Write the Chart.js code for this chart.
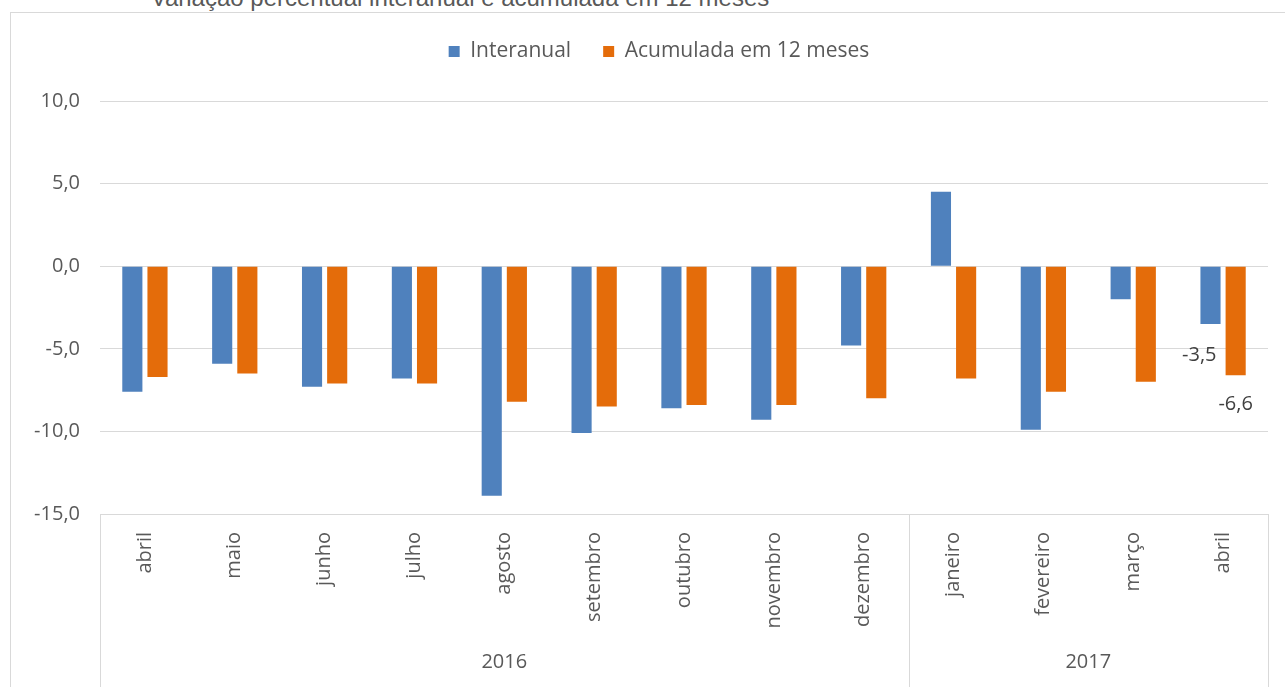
<!DOCTYPE html>
<html>
<head>
<meta charset="utf-8">
<script src="https://cdn.jsdelivr.net/npm/chart.js@4"></script>
<style>
  body { margin: 0; background: #fff; overflow: hidden; }
  .wrap { position: relative; width: 1285px; height: 687px; }
  .frame { position: absolute; left: 10px; top: 12px; width: 1400px; height: 800px; border: 1px solid #d9d9d9; }
  .title { position: absolute; left: 0; width: 920px; top: -16px; text-align: center; font: 24px "Liberation Sans", Arial, sans-serif; color: #595959; white-space: nowrap; }
  canvas { position: absolute; left: 0; top: 0; }
</style>
</head>
<body>
<div class="wrap">
  <div class="frame"></div>
  <div class="title">Variação percentual interanual e acumulada em 12 meses</div>
  <canvas id="myChart" width="1285" height="687"></canvas>
</div>
<script>
const months = ["abril", "maio", "junho", "julho", "agosto", "setembro", "outubro", "novembro", "dezembro", "janeiro", "fevereiro", "março", "abril"];
const years = ["2016", "2017"];
const yearCounts = [9, 4];
const interanual = [-7.6, -5.9, -7.3, -6.8, -13.9, -10.1, -8.6, -9.3, -4.8, 4.5, -9.9, -2.0, -3.5];
const acumulada = [-6.7, -6.5, -7.1, -7.1, -8.2, -8.5, -8.4, -8.4, -8.0, -6.8, -7.6, -7.0, -6.6];
const yTicks = [-15, -10, -5, 0, 5, 10];

const fontFamily = '"Open Sans", sans-serif';
const textColor = "#595959";

// value labels only on the last month, like the original
const lastLabels = {
  id: "lastLabels",
  afterDatasetsDraw(chart) {
    const c = chart.ctx;
    const i = months.length - 1;
    const blue = chart.getDatasetMeta(0).data[i];
    const orange = chart.getDatasetMeta(1).data[i];
    c.save();
    c.font = "20px " + fontFamily;
    c.fillStyle = "#404040";
    c.textBaseline = "middle";
    c.textAlign = "right";
    c.fillText(interanual[i].toFixed(1).replace(".", ","), blue.x + 6, blue.y + 31);
    c.textAlign = "center";
    c.fillText(acumulada[i].toFixed(1).replace(".", ","), orange.x, orange.y + 29);
    c.restore();
  },
};

// year groups under the month labels
const yearGroups = {
  id: "yearGroups",
  afterDraw(chart) {
    const c = chart.ctx;
    const x = chart.scales.x;
    const step = (x.right - x.left) / months.length;
    const top = chart.chartArea.bottom;
    const bottom = chart.height;
    c.save();
    c.strokeStyle = "#d9d9d9";
    c.lineWidth = 1;
    c.font = "20px " + fontFamily;
    c.fillStyle = textColor;
    c.textAlign = "center";
    c.textBaseline = "middle";
    let start = 0;
    const edges = [x.left];
    years.forEach((y, k) => {
      const x0 = x.left + start * step;
      const x1 = x0 + yearCounts[k] * step;
      edges.push(x1);
      c.fillText(y, (x0 + x1) / 2, 662);
      start += yearCounts[k];
    });
    edges.forEach((e) => {
      c.beginPath();
      c.moveTo(Math.round(e) + 0.5, top);
      c.lineTo(Math.round(e) + 0.5, bottom);
      c.stroke();
    });
    c.restore();
  },
};

// taller legend box, and nudged right like the original
const legendBox = {
  id: "legendBox",
  beforeInit(chart) {
    const fit = chart.legend.fit;
    chart.legend.fit = function () {
      fit.bind(chart.legend)();
      this.height = 92;
    };
  },
  afterLayout(chart) {
    chart.legend.left += 25;
    chart.legend.right += 25;
  },
};

const ctx = document.getElementById("myChart").getContext("2d");

new Chart(ctx, {
  type: "bar",
  data: {
    labels: months,
    datasets: [
      {
        label: "Interanual",
        data: interanual,
        backgroundColor: "#4f81bd",
        barPercentage: 0.8,
        categoryPercentage: 0.56,
      },
      {
        label: "Acumulada em 12 meses",
        data: acumulada,
        backgroundColor: "#e46c0a",
        barPercentage: 0.8,
        categoryPercentage: 0.56,
      },
    ],
  },
  options: {
    responsive: false,
    animation: false,
    layout: { padding: { top: 9, left: 0, right: 17, bottom: 0 } },
    plugins: {
      legend: {
        position: "top",
        labels: {
          boxWidth: 11,
          boxHeight: 11,
          padding: 32,
          color: textColor,
          font: { family: fontFamily, size: 21 },
        },
      },
      tooltip: { enabled: false },
    },
    scales: {
      x: {
        grid: { display: false },
        border: { display: false },
        ticks: {
          autoSkip: false,
          minRotation: 90,
          maxRotation: 90,
          padding: 10,
          color: textColor,
          font: { family: fontFamily, size: 20 },
        },
        afterFit(scale) {
          scale.height = 173;
        },
      },
      y: {
        min: -15,
        max: 10,
        grid: { color: "#d9d9d9", drawTicks: false },
        border: { display: false },
        afterBuildTicks(scale) {
          scale.ticks = yTicks.map((v) => ({ value: v }));
        },
        ticks: {
          padding: 20,
          color: textColor,
          font: { family: fontFamily, size: 20 },
          callback: (v) => v.toFixed(1).replace(".", ","),
        },
        afterFit(scale) {
          scale.width = 100;
        },
      },
    },
  },
  plugins: [legendBox, lastLabels, yearGroups],
});
</script>
</body>
</html>
